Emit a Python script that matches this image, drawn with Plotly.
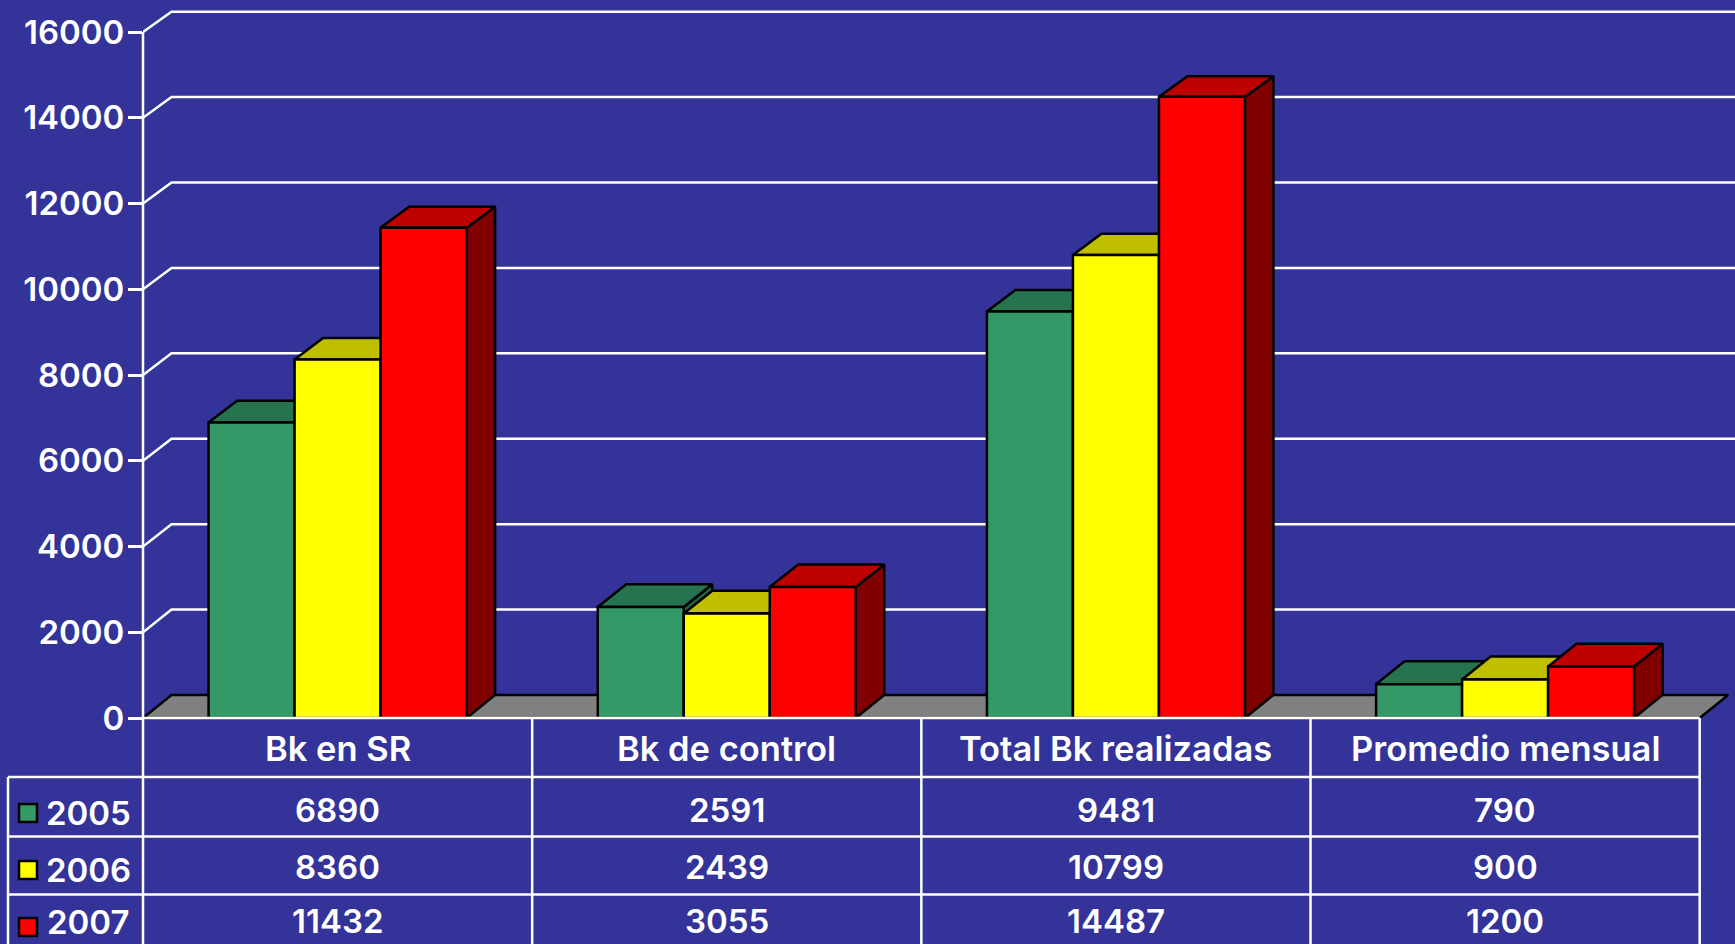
import plotly.graph_objects as go

categories = ["Bk en SR", "Bk de control", "Total Bk realizadas", "Promedio mensual"]
years = ["2005", "2006", "2007"]
values_2005 = [6890, 2591, 9481, 790]
values_2006 = [8360, 2439, 10799, 900]
values_2007 = [11432, 3055, 14487, 1200]
y_ticks = [0, 2000, 4000, 6000, 8000, 10000, 12000, 14000, 16000]

front = ["#339966", "#FFFF00", "#FF0000"]
top = ["#267350", "#BFBF00", "#BF0000"]
side = ["#1F6644", "#808000", "#800000"]
BG = "#333399"
FONT = dict(family="Inter, 'DejaVu Sans', sans-serif", size=33, color="white", weight=600)
HEAD_FONT = dict(FONT, size=34.5)

W, H = 1735, 944
AX_L, BASE, COL = 143.0, 718.0, 389.17
PER_UNIT = 686 / 16000
BAR = 86 / COL
DX = 28.5 / COL
X_MAX = (W - AX_L) / COL - 0.5
Y_MAX = BASE / PER_UNIT
EDGE = 2.5


def back(v):
    return v * 683.3 / 686 + 23 / PER_UNIT


def px(x):
    return x / W


def py(y):
    return 1 - y / H


fig = go.Figure()


def poly(xs, ys, fill, line="black", width=EDGE):
    fig.add_trace(go.Scatter(x=xs, y=ys, mode="lines", fill="toself", fillcolor=fill,
                             line=dict(color=line, width=width), hoverinfo="skip",
                             showlegend=False, cliponaxis=False))


# back wall grid lines
gx, gy = [], []
for t in y_ticks[1:]:
    gx += [-0.5, -0.5 + DX, X_MAX, None]
    gy += [t, back(t), back(t), None]
fig.add_trace(go.Scatter(x=gx, y=gy, mode="lines", line=dict(color="white", width=2.5),
                         hoverinfo="skip", showlegend=False, cliponaxis=False))

# floor
poly([-0.5, -0.5 + DX, 3.5 + DX, 3.5, -0.5], [0, back(0), back(0), 0, 0], "#808080")

# bars, painted from the left so each hides the one before it
series = [values_2005, values_2006, values_2007]
for s, vals in enumerate(series):
    sx, sy, tx, ty, fx, fy = [], [], [], [], [], []
    for c, v in enumerate(vals):
        a = c + (s - 1.5) * BAR
        b = a + BAR
        sx += [b, b + DX, b + DX, b, b, None]
        sy += [0, back(0), back(v), v, 0, None]
        tx += [a, a + DX, b + DX, b, a, None]
        ty += [v, back(v), back(v), v, v, None]
        fx += [a, a, b, b, a, None]
        fy += [0, v, v, 0, 0, None]
    poly(sx, sy, side[s])
    poly(tx, ty, top[s])
    poly(fx, fy, front[s])

shapes = []


def wline(x0, y0, x1, y1):
    shapes.append(dict(type="line", xref="paper", yref="paper", x0=px(x0), y0=py(y0),
                       x1=px(x1), y1=py(y1), line=dict(color="white", width=2.5)))


# value axis line and table rules
wline(AX_L, BASE - 16000 * PER_UNIT, AX_L, H)
wline(AX_L, BASE, AX_L + 4 * COL, BASE)
row_y = [777, 836.5, 894.5]
for y in row_y:
    wline(8, y, AX_L + 4 * COL, y)
wline(8, row_y[0], 8, H)
for c in range(1, 5):
    wline(AX_L + c * COL, BASE, AX_L + c * COL, H)

annotations = []


def label(text, x, y, font=FONT):
    annotations.append(dict(text=text, x=px(x), y=py(y), xref="paper", yref="paper",
                            showarrow=False, font=font, xanchor="center", yanchor="middle"))


for c, name in enumerate(categories):
    cx = AX_L + (c + 0.5) * COL
    label(name, cx, 748, HEAD_FONT)
    for s, vals in enumerate(series):
        label(str(vals[c]), cx, 810 + 57 * s if s < 2 else 921)

for s, year in enumerate(years):
    key_y = 813 + 57 * s
    label(year, 88, min(key_y, 922))
    shapes.append(dict(type="rect", xref="paper", yref="paper", x0=px(19), x1=px(37),
                       y0=py(key_y - 9), y1=py(key_y + 9), fillcolor=front[s],
                       line=dict(color="black", width=2.5)))

fig.update_layout(
    width=W, height=H, autosize=False, margin=dict(l=0, r=0, t=0, b=0),
    paper_bgcolor=BG, plot_bgcolor=BG, showlegend=False,
    shapes=shapes, annotations=annotations,
    xaxis=dict(domain=[AX_L / W, 1], range=[-0.5, X_MAX], visible=False, automargin=False),
    yaxis=dict(domain=[1 - BASE / H, 1], range=[0, Y_MAX], tickmode="array",
               tickvals=y_ticks, ticktext=[str(t) for t in y_ticks], ticks="outside",
               ticklen=14, tickwidth=2.5, tickcolor="white", tickfont=FONT,
               ticklabelstandoff=-3, showgrid=False, zeroline=False, showline=False,
               automargin=False),
)

fig.write_html("out.html", config=dict(responsive=False, displayModeBar=False),
               post_script="document.documentElement.style.background='#333399';document.body.style.margin='0';document.body.style.overflow='hidden';")
